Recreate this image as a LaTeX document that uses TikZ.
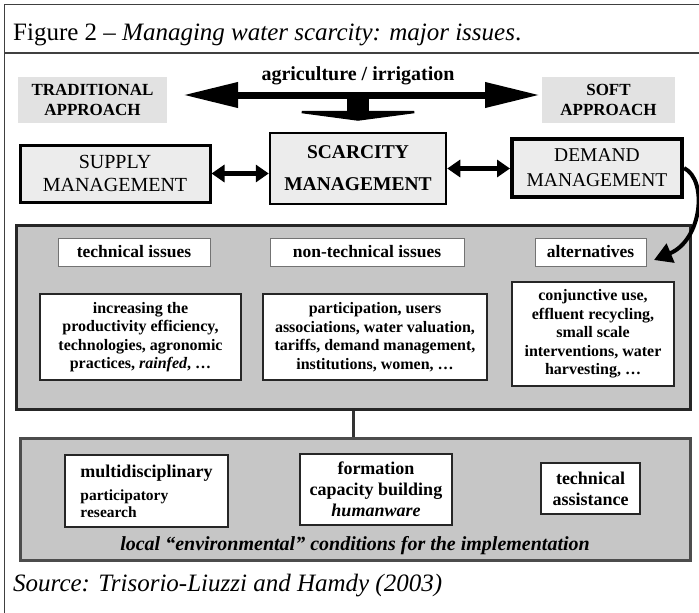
\documentclass[tikz,border=0pt]{standalone}
\usepackage{fontspec}
\setmainfont{Liberation Serif}
\usepackage[]{xcolor}
\usetikzlibrary{arrows.meta}
\definecolor{panelgray}{RGB}{198,198,198}
\definecolor{mgmtgray}{RGB}{236,236,236}
\definecolor{approachgray}{RGB}{226,226,226}
\tikzset{approach/.style={fill=approachgray,minimum height=46pt,align=center,inner sep=0pt,font=\bfseries\fontsize{17}{20}\selectfont}}
\tikzset{mgmt/.style={draw=black,fill=mgmtgray,align=center,inner sep=0pt}}
\tikzset{panel/.style={draw=black!85,line width=3pt,fill=panelgray}}
\tikzset{headbox/.style={draw=black!55,line width=1pt,fill=white,minimum height=28pt,inner sep=0pt,font=\bfseries\fontsize{17.5}{20}\selectfont}}
\tikzset{issuebox/.style={draw=black!85,line width=1.5pt,fill=white,align=center,inner sep=0pt,font=\bfseries\fontsize{16}{18.5}\selectfont}}
\tikzset{biarrow/.style={line width=5pt,{Triangle[length=13pt,width=17pt]}-{Triangle[length=13pt,width=17pt]}}}

\begin{document}
\begin{tikzpicture}[x=1pt,y=-1pt]
    \useasboundingbox (0,0) rectangle (699,613);
    % frame and caption
    \draw[black!75,line width=1.2pt] (4.5,613) -- (4.5,4.5) -- (699,4.5);
    \draw[black!75,line width=1.2pt] (4.5,53) -- (699,53);
    \node[anchor=base west,inner sep=0pt,font=\fontsize{25}{28}\selectfont] (caption) at (13,40) {Figure 2 -- \textit{Managing water scarcity: major issues}.};
    % approaches
    \node[approach,minimum width=149pt] (trad) at (92.5,100) {TRADITIONAL\\APPROACH};
    \node[approach,minimum width=133pt] (soft) at (608.5,100) {SOFT\\APPROACH};
    \node[font=\bfseries\fontsize{20}{22}\selectfont] (agri) at (358,76) {agriculture / irrigation};
    \coordinate (lefttip) at (183,95);
    \coordinate (righttip) at (540,95);
    \coordinate (stem) at (358,95);
    \draw[line width=7pt,{Triangle[length=55pt,width=24pt]}-{Triangle[length=55pt,width=24pt]}] (lefttip) -- (righttip);
    % management row
    \node[mgmt,line width=3pt,minimum width=190pt,minimum height=57pt,font=\fontsize{20}{23}\selectfont] (supply) at (115,173.5) {SUPPLY\\MANAGEMENT};
    \node[mgmt,line width=2.5pt,minimum width=176pt,minimum height=71pt,font=\bfseries\fontsize{19.5}{32}\selectfont] (scarcity) at (358,168.5) {SCARCITY\\MANAGEMENT};
    \node[mgmt,line width=4pt,minimum width=170pt,minimum height=58pt,font=\fontsize{19.5}{25}\selectfont] (demand) at (597,168) {DEMAND\\MANAGEMENT};
    \draw[line width=22pt,-{Triangle[length=10pt,width=150pt]},shorten >=11pt] (stem) -- (scarcity.north);
    \draw[biarrow] (supply.east) -- (supply.east -| scarcity.west);
    \draw[biarrow] (scarcity.east) -- (scarcity.east -| demand.west);
    % issues
    \node[panel,minimum width=674pt,minimum height=184pt] (issues) at (353,317) {};
    \node[headbox,minimum width=152pt] (techhead) at (134,252) {technical issues};
    \node[headbox,minimum width=194pt] (nontechhead) at (367,252) {non-technical issues};
    \node[headbox,minimum width=111pt] (althead) at (590.5,252) {alternatives};
    \node[issuebox,minimum width=201pt,minimum height=86pt] (techbox) at (140.5,337) {increasing the\\productivity efficiency,\\technologies, agronomic\\practices, \textit{rainfed}, \dots};
    \node[issuebox,minimum width=224pt,minimum height=86pt] (nontechbox) at (375,337) {participation, users\\associations, water valuation,\\tariffs, demand management,\\institutions, women, \dots};
    \node[issuebox,minimum width=162pt,minimum height=104pt] (altbox) at (593,334) {conjunctive use,\\effluent recycling,\\small scale\\interventions, water\\harvesting, \dots};
    \coordinate (alttip) at (654,260);
    \draw[line width=4pt,-{Triangle[length=18pt,width=20pt]}] (demand.east) .. controls (708,180) and (702,240) .. (alttip);
    % implementation
    \node[panel,draw=black!70,minimum width=670pt,minimum height=122pt] (impl) at (355,499) {};
    \draw[line width=3pt,black!80] (issues.south) -- (issues.south |- impl.north);
    \node[issuebox,align=left,minimum width=163pt,minimum height=72pt,font=\bfseries\fontsize{15.5}{17}\selectfont] (multi) at (146.5,491) {{\fontsize{18}{17}\selectfont multidisciplinary}\\[6pt]participatory\\research};
    \node[issuebox,minimum width=152pt,minimum height=71pt,font=\bfseries\fontsize{18}{21}\selectfont] (formation) at (376,489.5) {formation\\capacity building\\\textit{humanware}};
    \node[issuebox,minimum width=99pt,minimum height=51pt,font=\bfseries\fontsize{18}{21}\selectfont] (assist) at (590.5,488.5) {technical\\assistance};
    \node[font=\bfseries\itshape\fontsize{20}{22}\selectfont] (local) at (355,546) {local ``environmental'' conditions for the implementation};
    \node[anchor=base west,inner sep=0pt,font=\itshape\fontsize{25}{28}\selectfont] (source) at (13,591) {Source: Trisorio-Liuzzi and Hamdy (2003)};
\end{tikzpicture}
\end{document}
